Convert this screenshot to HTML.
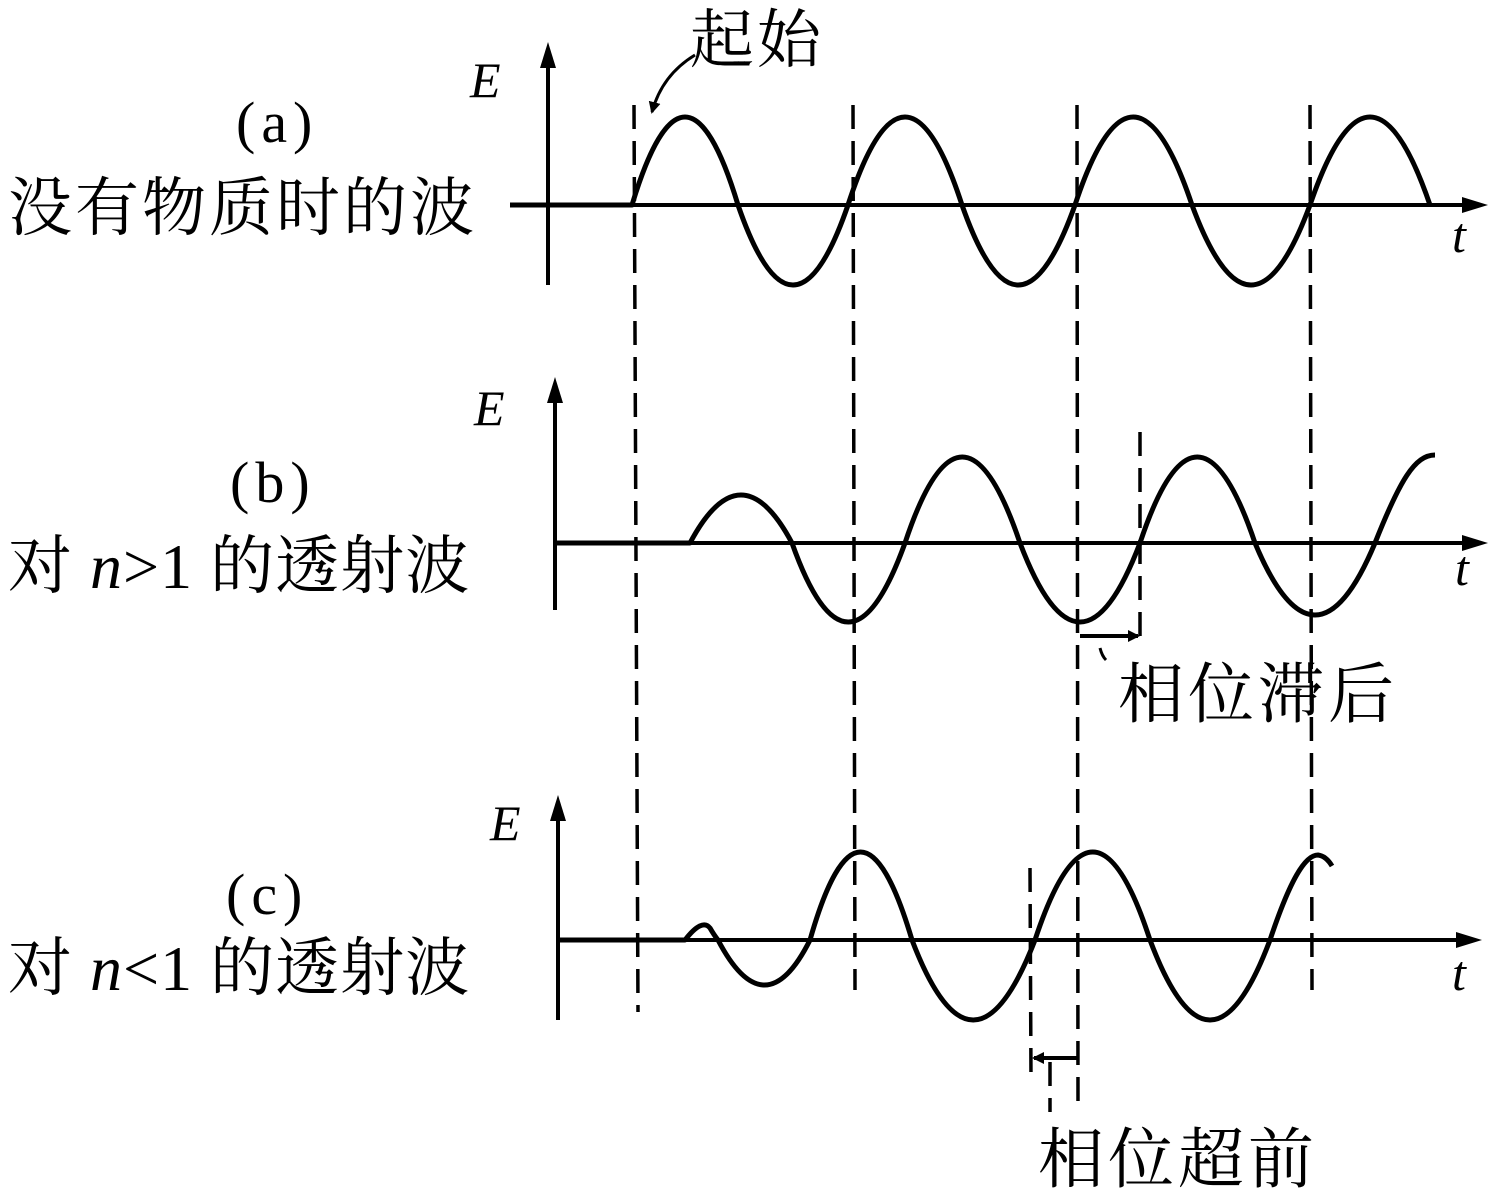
<!DOCTYPE html>
<html><head><meta charset="utf-8"><style>
html,body{margin:0;padding:0;background:#fff;}
svg{display:block;}
.cj{font-family:"Liberation Serif","Noto Serif CJK SC","Noto Sans CJK SC",serif;fill:#000;}
.it{font-family:"Liberation Serif",serif;font-style:italic;fill:#000;}
</style></head><body>
<svg width="1497" height="1196" viewBox="0 0 1497 1196" xmlns="http://www.w3.org/2000/svg">
<defs>
<marker id="ah" markerWidth="12" markerHeight="12" refX="10" refY="6" orient="auto" markerUnits="userSpaceOnUse" viewBox="0 0 12 12">
<path d="M0,0 L12,6 L0,12 Z" fill="#000"/></marker>
</defs>
<g stroke="#000" fill="none">
<g stroke-width="3.5" stroke-dasharray="24 12">
<line x1="634" y1="105" x2="638" y2="1012"/>
<line x1="853" y1="105" x2="855" y2="990"/>
<line x1="1077" y1="105" x2="1078" y2="1112"/>
<line x1="1310" y1="105" x2="1312" y2="990"/>
<line x1="1140" y1="432" x2="1140" y2="640"/>
<line x1="1030" y1="868" x2="1031" y2="1080"/>
<line x1="1050" y1="1062" x2="1050" y2="1112"/>
</g>
<g stroke-width="4">
<line x1="510" y1="205" x2="1470" y2="205"/>
<line x1="548" y1="285" x2="548" y2="55"/>
<line x1="555" y1="543" x2="1470" y2="543"/>
<line x1="555" y1="610" x2="555" y2="390"/>
<line x1="560" y1="940" x2="1465" y2="940"/>
<line x1="558" y1="1020" x2="558" y2="808"/>
</g>
<g fill="#000" stroke="none">
<path d="M1488,205 L1462,197 L1462,213 Z"/>
<path d="M548,42 L540,68 L556,68 Z"/>
<path d="M1488,543 L1462,535 L1462,551 Z"/>
<path d="M555,377 L547,403 L563,403 Z"/>
<path d="M1482,940 L1456,932 L1456,948 Z"/>
<path d="M558,795 L550,821 L566,821 Z"/>
</g>
<g stroke-width="5" stroke-linejoin="round">
<path d="M510,205 L632,205 Q685,29 738,205 Q793,365 848,205 Q905,29 962,205 Q1018,365 1075,205 Q1133,29 1192,205 Q1251,365 1310,205 Q1370,29 1430,205"/>
<path d="M555,543 L690,543 Q741,447 792,543 Q848,701 905,543 Q962,371 1020,543 Q1080,701 1140,543 Q1197,371 1255,543 Q1315,687 1375,543 C1400,480 1415,455 1435,455"/>
<path d="M560,940 L685,940 Q702,918 710,928 Q714,935 718,940 Q765,1030 810,940 Q860,764 912,940 Q973,1100 1035,940 Q1093,764 1150,940 Q1210,1100 1270,940 C1290,880 1305,855 1318,855 Q1326,856 1332,866"/>
</g>
<line x1="1080" y1="636" x2="1138" y2="636" stroke-width="4" marker-end="url(#ah)"/>
<line x1="1078" y1="1058" x2="1034" y2="1058" stroke-width="4" marker-end="url(#ah)"/>
<path d="M1100,648 Q1102,656 1106,660" stroke-width="3"/>
<path d="M695,55 Q662,75 652,112" stroke-width="3" marker-end="url(#ah)"/>
</g>
<text class="it" x="470" y="97" font-size="50">E</text>
<text class="it" x="474" y="425" font-size="50">E</text>
<text class="it" x="490" y="840" font-size="50">E</text>
<text class="it" x="1452" y="252" font-size="50">t</text>
<text class="it" x="1455" y="585" font-size="50">t</text>
<text class="it" x="1452" y="990" font-size="50">t</text>
<text class="cj" x="236" y="142" font-size="58" letter-spacing="6">(a)</text>
<text class="cj" x="230" y="502" font-size="58" letter-spacing="6">(b)</text>
<text class="cj" x="226" y="914" font-size="58" letter-spacing="6">(c)</text>
<text class="cj" x="8" y="230" font-size="64" letter-spacing="3">没有物质时的波</text>
<text class="cj" x="8" y="588" font-size="64" letter-spacing="1">对 <tspan class="it">n</tspan>&gt;1 的透射波</text>
<text class="cj" x="8" y="990" font-size="64" letter-spacing="1">对 <tspan class="it">n</tspan>&lt;1 的透射波</text>
<text class="cj" x="690" y="62" font-size="64" letter-spacing="3">起始</text>
<text class="cj" x="1118" y="717" font-size="66" letter-spacing="4">相位滞后</text>
<text class="cj" x="1038" y="1182" font-size="66" letter-spacing="4">相位超前</text>
</svg>
</body></html>
